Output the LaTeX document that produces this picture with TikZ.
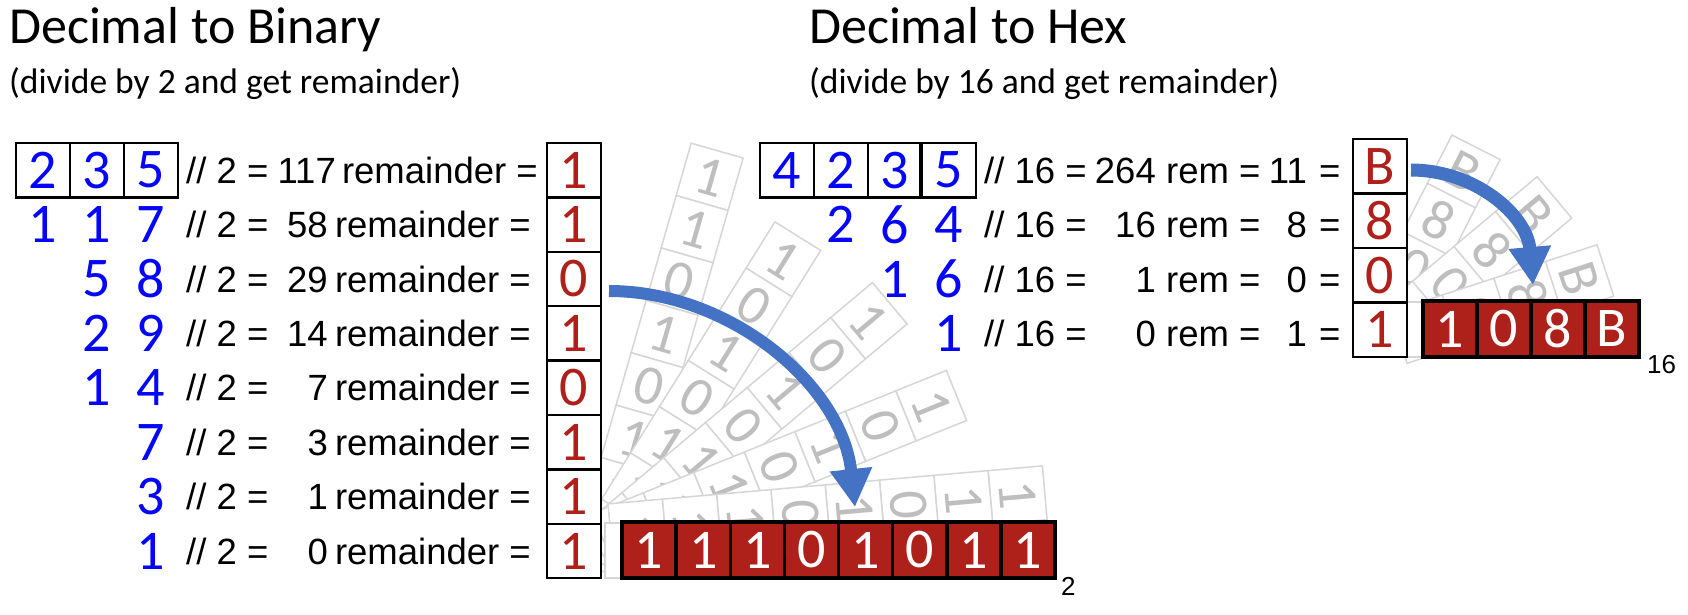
\documentclass[tikz,border=0pt]{standalone}
\usepackage{fontspec}
\setmainfont{Carlito}
\newfontfamily\arialf{Liberation Sans}
\usetikzlibrary{arrows.meta}
\definecolor{remred}{RGB}{176,32,26}
\definecolor{cellred}{RGB}{174,33,26}
\definecolor{arrowblue}{RGB}{68,114,196}
\definecolor{ghostline}{RGB}{214,214,214}
\definecolor{ghosttxt}{RGB}{190,190,190}
\definecolor{digblue}{RGB}{5,5,250}
\newcommand\bigfnt{\fontsize{56}{64}\selectfont}
\tikzset{
 titletxt/.style={anchor=base west, inner sep=0, font=\fontsize{52}{60}\selectfont},
 subtxt/.style={anchor=base west, inner sep=0, font=\fontsize{35.5}{42}\selectfont},
 tabl/.style={anchor=base west, inner sep=0, font=\arialf\fontsize{36.5}{42}\selectfont},
 tabr/.style={anchor=base east, inner sep=0, font=\arialf\fontsize{36.5}{42}\selectfont},
 subsc/.style={anchor=base west, inner sep=0, font=\arialf\fontsize{26}{30}\selectfont},
 bigdig/.style={inner sep=0, font=\bigfnt},
 bluedig/.style={bigdig, text=digblue},
 bluecell/.style={bigdig, text=digblue, draw=black, line width=2.5pt, fill=white, minimum width=54pt, minimum height=54.4pt},
 remcell/.style={bigdig, text=remred, draw=black, line width=2.5pt, fill=white, minimum width=54pt, minimum height=54.4pt},
 redcell/.style={bigdig, text=white, fill=cellred, draw=black, line width=3.5pt, minimum width=54pt, minimum height=56pt},
 gcell/.style={bigdig, text=ghosttxt, draw=ghostline, fill=white, line width=1.5pt, minimum width=54pt, minimum height=54.5pt},
 bigarrow/.style={draw=arrowblue, line width=12pt, -{Triangle[width=40pt,length=38pt]}},
}
\newcommand\BinGhost[2]{%
\begin{scope}[shift={(632,560)},rotate=-#1]
\foreach \d [count=\k] in {1,1,0,1,0,1,1,1}{%
 \ifnum\k<#2\relax\else
 \node[gcell,rotate=-#1] (bg#1c\k) at (-31,{-417+54.5*(\k-0.5)}) {\d};
 \fi}
\end{scope}}
\newcommand\HexGhost[1]{%
\begin{scope}[shift={(1392,365)},rotate=-#1]
\foreach \d [count=\k] in {B,8,0,1}{%
 \node[gcell,rotate=-#1] (hg#1c\k) at (-24,{-232+54.25*(\k-0.5)}) {\d};}
\end{scope}}
\begin{document}
\begin{tikzpicture}[x=1pt,y=-1pt]
\useasboundingbox (0,0) rectangle (1688,614);
\fill[white] (0,0) rectangle (1688,614);

% titles
\node[titletxt] (t1) at (9,43) {Decimal to Binary};
\node[subtxt] (s1) at (9,93) {(divide by 2 and get remainder)};
\node[titletxt] (t2) at (809,43) {Decimal to Hex};
\node[subtxt] (s2) at (809,93) {(divide by 16 and get remainder)};

% ghost copies (binary)
\BinGhost{16}{1}
\BinGhost{32}{2}
\BinGhost{50}{2}
\BinGhost{68}{2}
\BinGhost{85}{1}
\node[gcell, minimum width=54.5pt, minimum height=55pt] (bg90) at (632.25,550.5) {};
% ghost copies (hex)
\HexGhost{27}
\HexGhost{50}
\HexGhost{72}
\node[gcell, minimum width=54pt, minimum height=55pt] (hg90) at (1428,329.5) {};

% ---------- binary table ----------
\foreach \d [count=\k] in {2,3,5}
  \node[bluecell] (bin\k) at ({16+54*(\k-0.5)},170.2) {\d};
\foreach \d/\c/\r [count=\k] in {1/1/2,1/2/2,7/3/2,5/2/3,8/3/3,2/2/4,9/3/4,1/2/5,4/3/5,7/3/6,3/3/7,1/3/8}
  \node[bluedig] (bq\k) at ({16+54*(\c-0.5)},{170.2+54.4*(\r-1)}) {\d};
\foreach \q/\qx/\rx [count=\k] in {117/336/538,58/328/531,29/328/531,14/328/531,7/328/531,3/328/531,1/328/531,0/328/531}{
  \node[tabl] (bdv\k) at (186,{170.2+54.4*(\k-1)+13}) {// 2 =};
  \node[tabr] (bqt\k) at (\qx,{170.2+54.4*(\k-1)+13}) {\q};
  \node[tabr] (brt\k) at (\rx,{170.2+54.4*(\k-1)+13}) {remainder =};
}
\foreach \d [count=\k] in {1,1,0,1,0,1,1,1}
  \node[remcell] (brem\k) at (574,{170.2+54.4*(\k-1)}) {\d};

% ---------- hex table ----------
\foreach \d [count=\k] in {4,2,3,5}
  \node[bluecell] (hin\k) at ({760+54*(\k-0.5)},170.2) {\d};
\draw[line width=4pt] (hin4.north west) -- (hin4.south west);
\foreach \d/\c/\r [count=\k] in {2/2/2,6/3/2,4/4/2,1/3/3,6/4/3,1/4/4}
  \node[bluedig] (hq\k) at ({760+54*(\c-0.5)},{170.2+54.4*(\r-1)}) {\d};
\foreach \q/\m [count=\k] in {264/11,16/8,1/0,0/1}{
  \node[tabl] (hdv\k) at (984,{170.2+54.4*(\k-1)+13}) {// 16 =};
  \node[tabr] (hqt\k) at (1156,{170.2+54.4*(\k-1)+13}) {\q};
  \node[tabl] (hrm\k) at (1166,{170.2+54.4*(\k-1)+13}) {rem =};
  \node[tabr] (hmv\k) at (1307,{170.2+54.4*(\k-1)+13}) {\m};
  \node[tabl] (heq\k) at (1319,{170.2+54.4*(\k-1)+13}) {=};
}
\foreach \d [count=\k] in {B,8,0,1}
  \node[remcell, minimum height=54.5pt] (hrem\k) at (1380,{139+54.5*(\k-0.5)}) {\d};

% ---------- arrows ----------
\coordinate (barS) at (609,291);
\coordinate (barE) at (855,507);
\draw[bigarrow] (barS) .. controls (730,291) and (842,385) .. (barE);
\coordinate (harS) at (1411,170);
\coordinate (harE) at (1533,285);
\draw[bigarrow, line width=13pt] (harS) .. controls (1475,170) and (1527,215) .. (harE);

% ---------- results ----------
\foreach \d [count=\k] in {1,1,1,0,1,0,1,1}
  \node[redcell, minimum width=54.125pt] (bres\k) at ({622+54.125*(\k-0.5)},550) {\d};
\node[subsc] (bsub) at (1061,595) {2};
\foreach \d [count=\k] in {1,0,8,B}
  \node[redcell] (hres\k) at ({1423+54*(\k-0.5)},329) {\d};
\node[subsc] (hsub) at (1647,373) {16};
\end{tikzpicture}
\end{document}
